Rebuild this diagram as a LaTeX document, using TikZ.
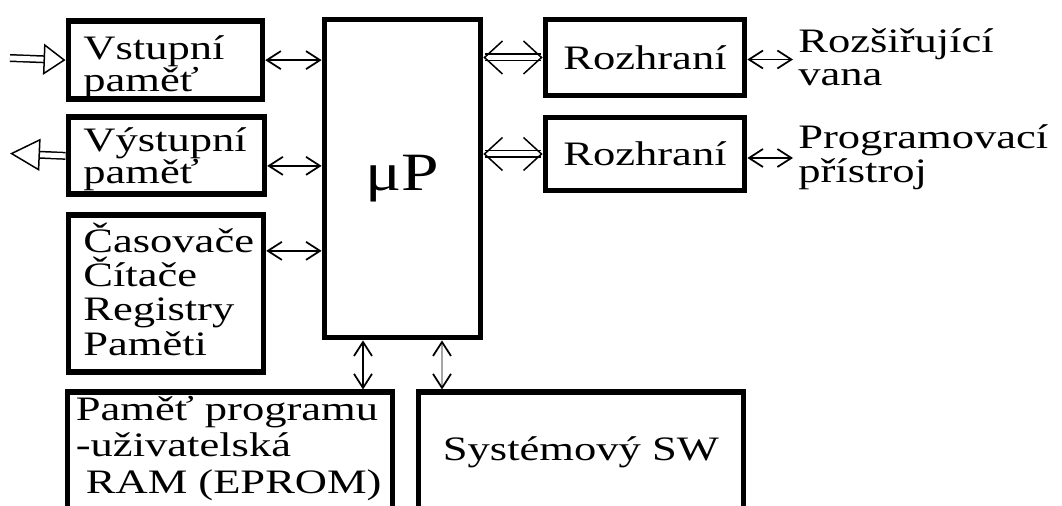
\documentclass[tikz,border=0pt]{standalone}
\usepackage{fontspec}
\setmainfont{Liberation Serif}[FakeStretch=1.3]
\newfontfamily\upfont{Liberation Serif}[FakeStretch=1.25]
\usetikzlibrary{arrows.meta, calc}

\tikzset{
  blok/.style={draw, line width=0.115cm, rectangle, inner sep=0pt},
  tblok/.style={blok, anchor=north west},
  obe/.style={line width=0.035cm, {Straight Barb[length=2.8mm,width=3.6mm,black]}-{Straight Barb[length=2.8mm,width=3.6mm,black]}},
  dvoj/.style={double, double distance=0.1cm, line width=0.03cm},
}

\begin{document}
\begin{tikzpicture}[font=\fontsize{19.5}{18.8}\selectfont]
        \path[use as bounding box, clip] (0,0) rectangle (21.24,10.1);

        % Levé bloky
        \node[tblok, inner xsep=0.3cm, inner ysep=0.29cm, font=\fontsize{19.5}{18.2}\selectfont] (vst) at (1.31,9.74)
            {\parbox[t][0.99cm][t]{3.28cm}{Vstupní\\paměť}};
        \node[tblok, inner xsep=0.3cm, inner ysep=0.20cm, font=\fontsize{19.5}{18.2}\selectfont] (vys) at (1.31,7.81)
            {\parbox[t][1.14cm][t]{3.32cm}{Výstupní\\paměť}};
        \node[tblok, inner xsep=0.3cm, inner ysep=0.15cm, font=\fontsize{19.5}{19.5}\selectfont] (cas) at (1.31,5.85)
            {\parbox[t][2.84cm][t]{3.3cm}{Časovače\\Čítače\\Registry\\Paměti}};

        % Procesor
        \node[blok, minimum width=3.12cm, minimum height=6.36cm, font=\upfont\fontsize{30.7}{36}\selectfont] (up) at (8.05,6.53) {μP};

        % Rozhraní
        \node[blok, minimum width=3.98cm, minimum height=1.52cm] (r1) at (12.9,8.95) {Rozhraní};
        \node[blok, minimum width=3.98cm, minimum height=1.46cm] (r2) at (12.9,7.02) {Rozhraní};
        \node[align=left, anchor=north west, inner xsep=0.1cm, inner ysep=0pt] (vana) at (15.86,9.53) {Rozšiřující\\vana};
        \node[align=left, anchor=north west, inner xsep=0.1cm, inner ysep=0pt, font=\fontsize{19.5}{19.3}\selectfont] (prist) at (15.86,7.61) {Programovací\\přístroj};

        % Spodní bloky
        \node[tblok, inner xsep=0.17cm, inner ysep=0.08cm, font=\fontsize{19.5}{20.7}\selectfont] (prog) at (1.29,2.31)
            {\parbox[t][2.9cm][t]{6.16cm}{Paměť programu\\-uživatelská\\\hspace*{0.2cm}RAM~(EPROM)}};
        \node[tblok, inner xsep=0cm, inner ysep=0.88cm] (sw) at (8.31,2.31)
            {\parbox[t][2.0cm][t]{6.5cm}{\centering Systémový SW}};

        % Vstup a výstup
        \coordinate (vin) at (0.2,8.94);
        \coordinate (vout) at (0.2,7.03);
        \draw[dvoj, -{Triangle[open, length=0.44cm, width=0.62cm]}] (vin) -- (vst.west);
        \draw[dvoj, -{Triangle[open, length=0.6cm, width=0.64cm]}] (vys.west) -- (vout);

        % Sběrnice
        \draw[obe] (vst.east) -- (vst.east -| up.west);
        \draw[obe] ([yshift=-2mm]vys.east) -- ([yshift=-2mm]vys.east -| up.west);
        \draw[obe] ([yshift=8.6mm]cas.east) -- ([yshift=8.6mm]cas.east -| up.west);
        \draw[dvoj, {Straight Barb[length=3.6mm,width=6.6mm]}-{Straight Barb[length=3.6mm,width=6.6mm]}] (up.east |- r1.west) -- (r1.west);
        \draw[dvoj, {Straight Barb[length=3.6mm,width=6.6mm]}-{Straight Barb[length=3.6mm,width=6.6mm]}] (up.east |- r2.west) -- (r2.west);
        \draw[obe] ([yshift=-0.4mm]r1.east) -- ([yshift=-0.4mm]r1.east -| vana.west);
        \draw[obe] ([yshift=-0.8mm]r2.east) -- ([yshift=-0.8mm]r2.east -| prist.west);
        \draw[obe] ([xshift=-7.9mm]up.south) -- ([xshift=-7.9mm]up.south |- prog.north);
        \draw[obe, gray!70] ([xshift=7.9mm]up.south) -- ([xshift=7.9mm]up.south |- sw.north);
\end{tikzpicture}
\end{document}
